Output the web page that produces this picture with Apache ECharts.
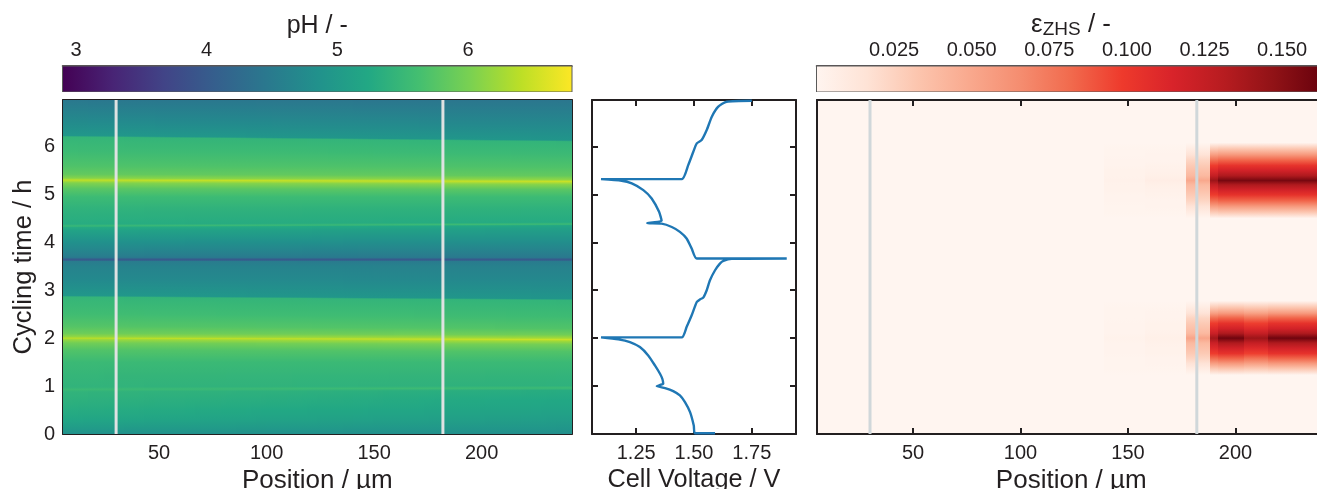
<!DOCTYPE html>
<html><head><meta charset="utf-8">
<style>html,body{margin:0;padding:0;background:#fff}#c{width:1317px;height:489px}</style>
<script src="https://cdn.jsdelivr.net/npm/echarts@6/dist/echarts.min.js"></script>
</head><body><div id="c"></div>
<script>
// ---- axes / ticks
const positionTicks = [50, 100, 150, 200];
const timeTicks = [0, 1, 2, 3, 4, 5, 6];
const voltageTicks = [1.25, 1.5, 1.75];
const voltageLabels = ['1.25', '1.50', '1.75'];
const phTicks = [3, 4, 5, 6];
const epsTicks = [0.025, 0.05, 0.075, 0.1, 0.125, 0.15];
const markerPositions = [30, 182];
// ---- colour scales
const viridis = ['#440154','#482475','#414487','#355f8d','#2a788e','#21918c','#22a884','#44bf70','#7ad151','#bddf26','#fde725'];
const reds = ['#fff5f0','#fee3d6','#fcc5ae','#f9a98e','#f58d70','#f16a4d','#ee3a2c','#d8232a','#b71c20','#8f1216','#65000c'];
// ---- pH map: rows read at both ends of the position axis
const phTimeLeft  = [0,.1,.3,.5,.7,.88,.93,.98,1.2,1.5,1.75,1.9,1.97,2.0,2.03,2.1,2.25,2.5,2.86,2.89,3.2,3.5,3.6,3.63,3.655,3.67,3.72,4.0,4.25,4.31,4.34,4.38,4.7,4.95,5.12,5.24,5.3,5.34,5.42,5.6,5.9,6.2,6.23,6.5,6.97];
const phTimeRight = [0,.1,.3,.5,.7,.91,.96,1.01,1.2,1.5,1.72,1.87,1.94,1.97,2.0,2.07,2.2,2.45,2.79,2.82,3.2,3.5,3.6,3.63,3.655,3.67,3.72,4.0,4.29,4.35,4.38,4.42,4.7,4.95,5.1,5.21,5.27,5.31,5.39,5.57,5.85,6.1,6.13,6.45,6.97];
const phLeft  = [4.85,5.0,5.2,5.3,5.37,5.42,5.52,5.42,5.45,5.52,5.72,5.95,6.18,6.38,6.15,5.92,5.74,5.58,5.45,4.95,4.74,4.62,4.52,4.0,4.0,4.42,4.55,4.85,5.15,5.28,5.5,5.3,5.4,5.55,5.78,6.05,6.42,6.08,5.85,5.7,5.55,5.45,4.95,4.75,4.45];
const phRight = [4.8,4.92,5.05,5.15,5.22,5.3,5.55,5.38,5.42,5.52,5.72,5.98,6.25,6.5,6.25,5.95,5.72,5.56,5.43,4.92,4.72,4.6,4.5,4.0,4.0,4.42,4.5,4.8,5.1,5.22,5.55,5.28,5.38,5.55,5.78,6.1,6.48,6.12,5.85,5.7,5.53,5.43,4.92,4.72,4.42];
// ---- cell voltage trace
const voltage = [1.591,1.504,1.499,1.483,1.461,1.439,1.41,1.375,1.339,1.367,1.363,1.353,1.331,1.302,1.266,1.223,1.173,1.098,1.447,1.468,1.49,1.512,1.526,1.54,1.555,1.569,1.591,1.612,1.627,1.663,1.901,1.512,1.49,1.468,1.439,1.404,1.36,1.298,1.36,1.349,1.317,1.281,1.231,1.187,1.098,1.447,1.475,1.497,1.512,1.533,1.555,1.577,1.605,1.641,1.75];
const voltageTime = [.017,.017,.178,.456,.665,.805,.895,.958,1.0,1.05,1.153,1.258,1.432,1.64,1.814,1.919,1.975,2.017,2.017,2.232,2.477,2.755,2.81,2.846,2.999,3.208,3.417,3.556,3.612,3.654,3.661,3.661,3.87,4.08,4.218,4.32,4.39,4.399,4.448,4.636,4.915,5.089,5.228,5.284,5.319,5.319,5.611,5.89,6.065,6.134,6.343,6.621,6.83,6.934,6.955];
// ---- ZHS map: blocks between these position edges
const epsEdges = [139,158,177,188,192,204,215,243];
const epsPeak1Time = [1.23,1.36,1.47,1.58,1.68,1.79,1.9,2.0,2.1,2.2,2.31,2.42,2.52,2.64,2.78];
const epsPeak1 = [
 [0,0,0,0,0,0,0],
 [.001,.001,.008,.03,.032,.03,.032],
 [.001,.002,.016,.055,.058,.054,.058],
 [.001,.002,.024,.08,.084,.078,.084],
 [.002,.003,.03,.098,.104,.097,.104],
 [.002,.003,.035,.11,.118,.11,.118],
 [.002,.004,.04,.122,.134,.124,.134],
 [.003,.005,.052,.14,.16,.142,.16],
 [.002,.004,.04,.122,.134,.124,.134],
 [.002,.003,.035,.11,.118,.11,.118],
 [.002,.003,.03,.098,.104,.097,.104],
 [.001,.002,.024,.08,.084,.078,.084],
 [.001,.002,.016,.055,.058,.054,.058],
 [.001,.001,.008,.03,.032,.03,.032],
 [0,0,0,0,0,0,0]];
const epsPeak2Time = [4.5,4.63,4.75,4.87,4.99,5.09,5.2,5.29,5.39,5.5,5.6,5.71,5.83,5.95,6.08];
const epsPeak2 = [
 [0,0,0,0,0,0,0],
 [.001,.001,.008,.03,.032,.032,.032],
 [.001,.002,.016,.055,.058,.058,.058],
 [.002,.002,.024,.08,.084,.084,.084],
 [.002,.003,.03,.098,.104,.104,.104],
 [.003,.004,.035,.11,.118,.118,.118],
 [.003,.005,.04,.124,.134,.134,.134],
 [.004,.007,.05,.142,.157,.157,.157],
 [.003,.005,.04,.124,.134,.134,.134],
 [.003,.004,.035,.11,.118,.118,.118],
 [.002,.003,.03,.098,.104,.104,.104],
 [.002,.002,.024,.08,.084,.084,.084],
 [.001,.002,.016,.055,.058,.058,.058],
 [.001,.001,.008,.03,.032,.032,.032],
 [0,0,0,0,0,0,0]];

const X0 = 5.3, X1 = 241.9, T1 = 6.97, V0 = 1.059, V1 = 1.941;
const PH0 = 2.897, PH1 = 6.795, E0 = 0, E1 = 0.164;
const DARK = '#231f20', FONT = '"Liberation Sans", Arial, sans-serif';
const colorOf = (v, lo, hi, map) => echarts.color.lerp(Math.min(1, Math.max(0, (v - lo) / (hi - lo))), map);

// Grids
const grids = [
  {left:63, top:100, width:508.7, height:334},
  {left:592, top:100, width:204, height:334},
  {left:816.9, top:100, width:508.7, height:334, show:true, backgroundColor:'#fff5f0', borderWidth:0},
  {left:62.5, top:66, width:509.5, height:26},
  {left:816.5, top:66, width:509.1, height:26}
].map(g => Object.assign(g, {outerBoundsMode:'none', containLabel:false}));
const xAxes = [], yAxes = [];
function xAxis(grid, pos, min, max, ticks, extra, len, lw) {
  xAxes.push(Object.assign({
    type:'value', gridIndex:grid, position:pos, min, max, splitLine:{show:false},
    axisLine:{show:true, onZero:false, lineStyle:{color:DARK, width:lw||2}},
    axisTick:{show:true, inside:true, length:len||6, customValues:ticks, lineStyle:{color:DARK, width:2}},
    axisLabel:{show:false}, nameTextStyle:{fontFamily:FONT, fontSize:26, color:DARK}
  }, extra || {}));
  return xAxes.length - 1;
}
function yAxis(grid, pos, min, max, ticks, extra) {
  yAxes.push(Object.assign({
    type:'value', gridIndex:grid, position:pos, min, max, splitLine:{show:false},
    axisLine:{show:true, onZero:false, lineStyle:{color:DARK, width:2}},
    axisTick:{show:!!ticks, inside:true, length:6, customValues:ticks||[], lineStyle:{color:DARK, width:2}},
    axisLabel:{show:false}, nameTextStyle:{fontFamily:FONT, fontSize:26, color:DARK}
  }, extra || {}));
  return yAxes.length - 1;
}
const tickLab = (vals, fmt, margin) => ({show:true, customValues:vals, margin:margin||8, fontFamily:FONT, fontSize:20, color:DARK, formatter:fmt||(v=>String(v)), hideOverlap:false, showMinLabel:true, showMaxLabel:true});
const posName = {name:'Position / µm', nameLocation:'middle', nameGap:27};

// panel 1
const x1 = xAxis(0,'bottom',X0,X1,positionTicks,Object.assign({axisLabel:tickLab(positionTicks,null,9)},posName));
xAxis(0,'top',X0,X1,positionTicks);
const y1 = yAxis(0,'left',0,T1,timeTicks,{axisLabel:tickLab(timeTicks), name:'Cycling time / h', nameLocation:'middle', nameGap:26, nameTextStyle:{fontFamily:FONT, fontSize:25.6, color:DARK}});
yAxis(0,'right',0,T1,timeTicks);
// panel 2
const x2 = xAxis(1,'bottom',V0,V1,voltageTicks,{axisLabel:tickLab(voltageTicks,v=>voltageLabels[voltageTicks.indexOf(v)]||v.toFixed(2),9), name:'Cell Voltage / V', nameLocation:'middle', nameGap:27, nameTextStyle:{fontFamily:FONT, fontSize:25.3, color:DARK}});
xAxis(1,'top',V0,V1,voltageTicks);
const y2 = yAxis(1,'left',0,T1,timeTicks);
yAxis(1,'right',0,T1,timeTicks);
// panel 3
const x3 = xAxis(2,'bottom',X0,X1,positionTicks,Object.assign({axisLabel:tickLab(positionTicks,null,9)},posName));
xAxis(2,'top',X0,X1,positionTicks);
const y3 = yAxis(2,'left',0,T1,null);
yAxis(2,'right',0,T1,null);
// colour bars
const x4 = xAxis(3,'top',PH0,PH1,phTicks,{axisLabel:tickLab(phTicks,null,6), name:'pH / -', nameLocation:'middle', nameGap:26, nameTextStyle:{fontFamily:FONT, fontSize:25, color:DARK}},5,1.5);
const y4 = yAxis(3,'left',0,1,null,{axisLine:{show:false}});
const x5 = xAxis(4,'top',E0,E1,epsTicks,{axisLabel:tickLab(epsTicks,v=>v.toFixed(3),6), nameLocation:'middle', nameGap:26,
  name:'{a|ε}{b|ZHS}{a| / -}', nameTextStyle:{fontFamily:FONT, color:DARK, rich:{a:{fontFamily:FONT,fontSize:26,color:DARK},b:{fontFamily:FONT,fontSize:19,color:DARK,padding:[9,0,0,0]}}}},5,1.5);
const y5 = yAxis(4,'left',0,1,null,{axisLine:{show:false}});

// pH cells: quads between neighbouring rows, sliced along position
const SLICES = 100, phCells = [];
const mix = (l, r, f) => l + (r - l) * f;
for (let i = 0; i + 1 < phLeft.length; i++) {
  for (let j = 0; j < SLICES; j++) {
    const a = j / SLICES, b = (j + 1) / SLICES, m = (a + b) / 2;
    phCells.push([
      mix(X0, X1, a), mix(X0, X1, b),
      mix(phTimeLeft[i], phTimeRight[i], m), mix(phTimeLeft[i], phTimeRight[i], m),
      mix(phTimeLeft[i+1], phTimeRight[i+1], m), mix(phTimeLeft[i+1], phTimeRight[i+1], m),
      mix(phLeft[i], phRight[i], m), mix(phLeft[i+1], phRight[i+1], m)
    ]);
  }
}
// cells are snapped to whole pixels; the fill keeps the exact positions
function quadRender(lo, hi, map) {
  return function (params, api) {
    const v = k => api.value(k);
    const a = api.coord([v(0), v(2)]), b = api.coord([v(1), v(4)]);
    const xa = Math.round(a[0]), xb = Math.round(b[0]), ya = Math.round(a[1]), yb = Math.round(b[1]);
    return {type:'rect', shape:{x:xa, y:yb, width:xb-xa, height:ya-yb}, silent:true, style:{
      fill:new echarts.graphic.LinearGradient(0, a[1], 0, b[1], [
        {offset:0, color:colorOf(v(6), lo, hi, map)}, {offset:1, color:colorOf(v(7), lo, hi, map)}], true)}};
  };
}
// ZHS cells
const epsCells = [];
[[epsPeak1Time, epsPeak1], [epsPeak2Time, epsPeak2]].forEach(([ts, rows]) => {
  for (let i = 0; i + 1 < ts.length; i++) for (let c = 0; c + 1 < epsEdges.length; c++) {
    epsCells.push([epsEdges[c], epsEdges[c+1], ts[i], ts[i], ts[i+1], ts[i+1], rows[i][c], rows[i+1][c]]);
  }
});
function barRender(map) {
  return function (params, api) {
    const a = api.coord([api.value(0), 0]), b = api.coord([api.value(1), 1]);
    return {type:'rect', silent:true, shape:{x:a[0], y:b[1], width:b[0]-a[0], height:a[1]-b[1]},
      style:{stroke:'#5a5a5a', lineWidth:1, fill:new echarts.graphic.LinearGradient(0,0,1,0,
        map.map((c,i)=>({offset:i/(map.length-1), color:c})))}};
  };
}
const markerLine = (xi, yi, x, color) => ({type:'line', xAxisIndex:xi, yAxisIndex:yi, data:[[x,0],[x,T1]], showSymbol:false, silent:true, z:5,
  lineStyle:{color, width:3, opacity:1}, animation:false});

const custom = (xi, yi, render, data, dims) => ({type:'custom', xAxisIndex:xi, yAxisIndex:yi, renderItem:render, data, clip:true, silent:true,
  animation:false, progressive:0, encode:dims, z:2});

const chart = echarts.init(document.getElementById('c'), null, {renderer:'canvas'});
chart.setOption({
  animation:false, backgroundColor:'#fff', grid:grids, xAxis:xAxes, yAxis:yAxes, tooltip:{show:false},
  series:[
    custom(x1, y1, quadRender(PH0, PH1, viridis), phCells, {x:[0,1], y:[2,3,4,5]}),
    custom(x3, y3, quadRender(E0, E1, reds), epsCells, {x:[0,1], y:[2,3,4,5]}),
    custom(x4, y4, barRender(viridis), [[PH0, PH1]], {x:[0,1]}),
    custom(x5, y5, barRender(reds), [[E0, E1]], {x:[0,1]}),
    ...markerPositions.map(p => markerLine(x1, y1, p, '#dfe2e2')),
    ...markerPositions.map(p => markerLine(x3, y3, p, '#d0d7da')),
    {type:'line', xAxisIndex:x2, yAxisIndex:y2, data:voltage.map((v,i)=>[v, voltageTime[i]]), showSymbol:false, silent:true, smooth:0.2,
      lineStyle:{color:'#1f77b4', width:2.4}, animation:false, clip:true}
  ]
});
</script></body></html>
